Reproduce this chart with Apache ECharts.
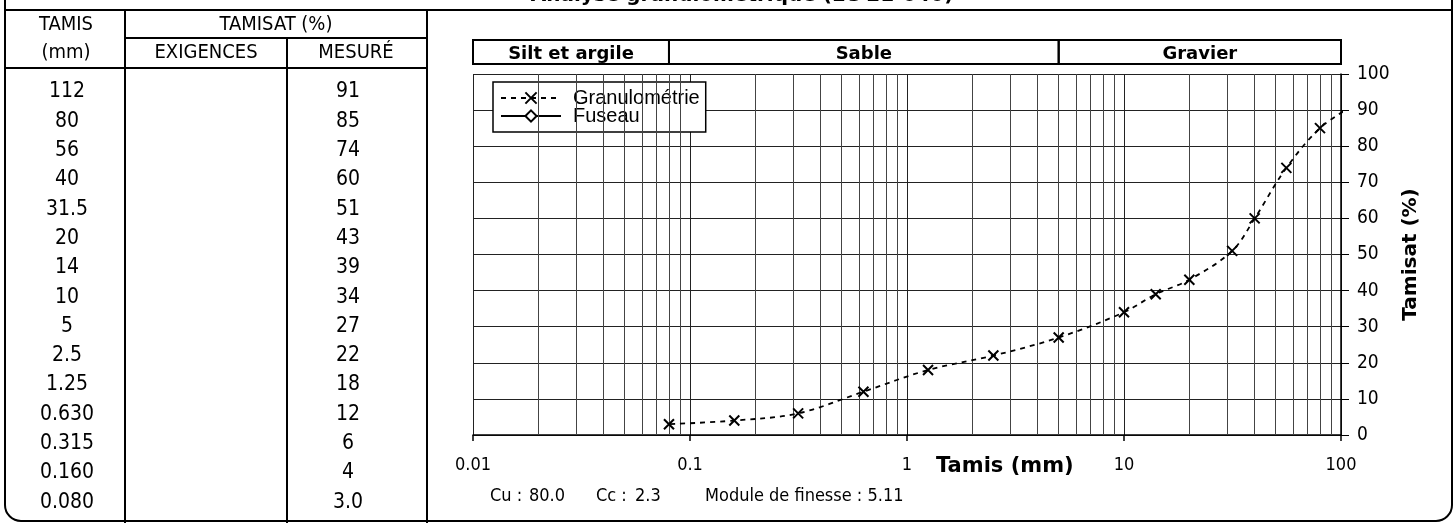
<!DOCTYPE html>
<html><head><meta charset="utf-8">
<script src="https://cdn.jsdelivr.net/npm/echarts@6/dist/echarts.min.js"></script>
<style>html,body{margin:0;padding:0;background:#fff}#c{width:1455px;height:523px}</style>
</head><body><div id="c"></div>
<script>
// ---- data ----
const tamis = [112, 80, 56, 40, 31.5, 20, 14, 10, 5, 2.5, 1.25, 0.630, 0.315, 0.160, 0.080];
const tamisLabels = ['112','80','56','40','31.5','20','14','10','5','2.5','1.25','0.630','0.315','0.160','0.080'];
const mesure = [91, 85, 74, 60, 51, 43, 39, 34, 27, 22, 18, 12, 6, 4, 3.0];
const mesureLabels = ['91','85','74','60','51','43','39','34','27','22','18','12','6','4','3.0'];
const fuseau = [];
const xTickLabels = ['0.01', '0.1', '1', '10', '100'];
const zoneBounds = [0.01, 0.08, 5, 100];
const zoneNames = ['Silt et argile', 'Sable', 'Gravier'];
const titleText = 'Analyse granulométrique (LC 21-040)';
const statLabels = ['Cu :', '80.0', 'Cc :', '2.3', 'Module de finesse : 5.11'];

// minor vertical grid positions (2..9 × each decade)
const minorGrid = [];
[0.01, 0.1, 1, 10].forEach(d => { for (let k = 2; k <= 9; k++) minorGrid.push(+(d * k).toPrecision(3)); });

const F = '"DejaVu Sans Condensed","DejaVu Sans",sans-serif';
const FB = '"DejaVu Sans",sans-serif';
const xSym = 'path://M0,0L10,10M10,0L0,10';

const chart = echarts.init(document.getElementById('c'));
chart.setOption({
  animation: false,
  grid: { left: 473, right: 114, top: 74, bottom: 88, show: false },
  xAxis: {
    type: 'log', logBase: 10, min: 0.01, max: 100,
    axisLine: { show: true, onZero: false, lineStyle: { color: '#000', width: 1.5 } },
    axisTick: { show: true, length: 6, lineStyle: { color: '#000', width: 1.5 } },
    axisLabel: { margin: 21, fontFamily: F, fontSize: 18, color: '#000',
      formatter: v => xTickLabels[Math.round(Math.log10(v)) + 2] },
    splitLine: { show: true, lineStyle: { color: '#222', width: 1 } }
  },
  yAxis: {
    type: 'value', position: 'right', min: 0, max: 100, interval: 10,
    axisLine: { show: true, lineStyle: { color: '#000', width: 1.5 } },
    axisTick: { show: true, length: 8, lineStyle: { color: '#000', width: 1 } },
    axisLabel: { margin: 16, fontFamily: F, fontSize: 19, color: '#000' },
    splitLine: { show: true, lineStyle: { color: '#222', width: 1 } },
    name: 'Tamisat (%)', nameLocation: 'middle', nameRotate: 90, nameGap: 56,
    nameTextStyle: { fontFamily: FB, fontWeight: 'bold', fontSize: 20, color: '#000' }
  },
  legend: {
    left: 493, top: 82, orient: 'vertical', backgroundColor: '#fff',
    borderColor: '#000', borderWidth: 1.5, padding: [6, 6, 6, 7],
    itemGap: -2, itemWidth: 60, itemHeight: 14,
    textStyle: { fontFamily: '"Liberation Sans",Arial,sans-serif', fontSize: 20, color: '#000', lineHeight: 16, padding: [0, 0, 0, 7] },
    data: ['Granulométrie', 'Fuseau']
  },
  series: [
    {
      name: 'mg', type: 'line', data: [], z: 1, silent: true,
      markLine: {
        silent: true, symbol: ['none', 'none'], label: { show: false },
        lineStyle: { type: 'solid', color: '#444', width: 1 },
        data: minorGrid.map(v => ({ xAxis: v }))
      }
    },
    {
      name: 'Granulométrie', type: 'line', z: 5, clip: true,
      data: tamis.map((t, i) => [t, mesure[i]]),
      smooth: 0.35,
      symbol: xSym, symbolSize: 10,
      lineStyle: { color: '#000', width: 1.8, type: [5, 5] },
      itemStyle: { color: '#000', borderColor: '#000', borderWidth: 2 }
    },
    {
      name: 'Fuseau', type: 'line', z: 5, data: fuseau,
      symbol: 'diamond', symbolSize: 9,
      lineStyle: { color: '#000', width: 1.5, type: 'solid' },
      itemStyle: { color: '#fff', borderColor: '#000', borderWidth: 2 }
    }
  ]
});

const px = v => chart.convertToPixel({ xAxisIndex: 0 }, v);
const G = [];
const line = (x1, y1, x2, y2, w) => G.push({ type: 'line', shape: { x1, y1, x2, y2 }, style: { stroke: '#000', lineWidth: w || 2 }, silent: true });
const text = (x, y, t, opt) => G.push({ type: 'text', x, y, silent: true,
  style: Object.assign({ text: t, fill: '#000', font: '20px ' + F, textAlign: 'center', textVerticalAlign: 'middle' }, opt || {}) });

// frame
G.push({ type: 'rect', shape: { x: 5, y: -40, width: 1447, height: 561, r: 16 }, style: { fill: 'none', stroke: '#000', lineWidth: 2 }, silent: true });
line(5, 10, 1452, 10);
line(125, 10, 125, 523);
line(287, 38, 287, 523);
line(427, 10, 427, 523);
line(125, 38, 427, 38);
line(5, 68, 427, 68);
// title (cut at top)
text(742, -4, titleText, { font: 'bold 20px ' + FB });
// table headers
text(66, 25, 'TAMIS');
text(66, 53, '(mm)');
text(276, 25, 'TAMISAT (%)');
text(206, 53, 'EXIGENCES');
text(356, 53, 'MESURÉ');
tamisLabels.forEach((t, i) => text(67, 92 + 29.3 * i, t, { font: '21px ' + F }));
mesureLabels.forEach((t, i) => text(348, 92 + 29.3 * i, t, { font: '21px ' + F }));
// zone boxes
for (let i = 0; i < zoneNames.length; i++) {
  const a = px(zoneBounds[i]), b = px(zoneBounds[i + 1]);
  G.push({ type: 'rect', shape: { x: a, y: 40, width: b - a, height: 24 }, style: { fill: 'none', stroke: '#000', lineWidth: 2 }, silent: true });
  text((a + b) / 2, 54, zoneNames[i], { font: 'bold 18px ' + FB });
}
// axis title
text(936, 467, 'Tamis (mm)', { font: 'bold 21px ' + FB, textAlign: 'left' });
// stats
const sx = [490, 529, 596, 635, 705];
statLabels.forEach((t, i) => text(sx[i], 496, t, { font: '18px ' + F, textAlign: 'left' }));

chart.setOption({ graphic: G });
</script>
</body></html>
